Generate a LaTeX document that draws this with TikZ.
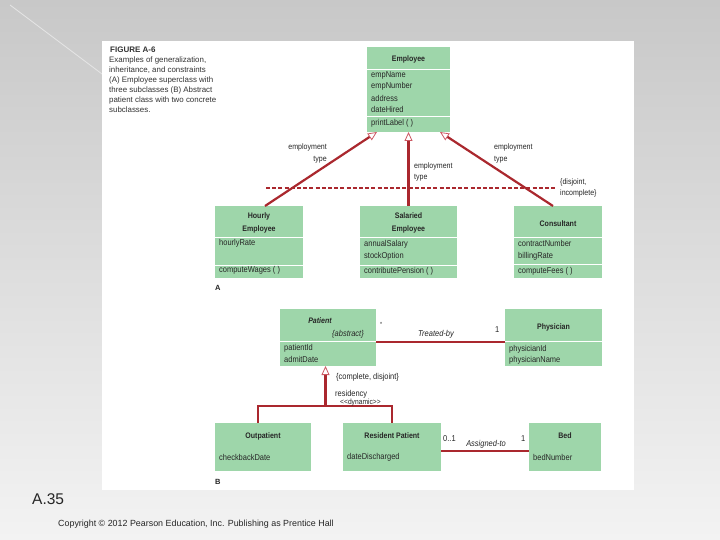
\documentclass[tikz,border=0pt]{standalone}
\usepackage{fontspec}
\setmainfont{Liberation Sans}
\newfontfamily\condf[FakeStretch=0.88]{Liberation Sans}
\usetikzlibrary{arrows.meta}
\definecolor{umlgreen}{RGB}{158,214,170}
\definecolor{umlred}{RGB}{170,40,46}
\definecolor{tippink}{RGB}{205,90,100}
\definecolor{bgtop}{RGB}{200,200,200}
\definecolor{bgbot}{RGB}{243,243,243}
\begin{document}
\begin{tikzpicture}[x=1pt,y=-1pt,
  box/.style={fill=umlgreen, draw=none, inner sep=0, outer sep=0, anchor=north west},
  sepline/.style={draw=white, line width=0.8pt},
  txt/.style={font=\condf\fontsize{8.5}{9}\selectfont, inner sep=0, anchor=west, text=black!85},
  itxt/.style={font=\condf\itshape\fontsize{8.5}{9}\selectfont, inner sep=0, text=black!85},
  ttl/.style={font=\condf\bfseries\fontsize{8}{12.5}\selectfont, inner sep=0, align=center, text=black!85},
  conn/.style={draw=umlred, line width=2.2pt},
  gen/.style={conn, -{Triangle[open, length=9pt, width=8pt, line width=0.8pt, color=tippink]}},
  captxt/.style={font=\fontsize{7.9}{10.1}\selectfont, inner sep=0, anchor=north west, align=left, text=black!80}
]
\useasboundingbox (0,0) rectangle (720,540);
\shade[top color=bgtop, bottom color=bgbot] (0,0) rectangle (720,540);
\draw[white!55!bgtop, line width=0.8pt] (10,5) -- (102,74);
\fill[white] (102,41) rectangle (634,490);

% caption
\node[captxt, font=\bfseries\fontsize{8}{10}\selectfont] (figtitle) at (110,46.5) {FIGURE A-6};
\node[captxt] (figcap) at (109,56.5) {Examples of generalization,\\inheritance, and constraints\\(A) Employee superclass with\\three subclasses (B) Abstract\\patient class with two concrete\\subclasses.};

% ---------- A ----------
\node[box, minimum width=83, minimum height=85] (emp) at (367,47) {};
\draw[sepline] (367,69) -- (450,69);
\draw[sepline] (367,116.5) -- (450,116.5);
\node[ttl] (empT) at (408.5,59.5) {Employee};
\node[txt] (e1) at (371,75) {empName};
\node[txt] (e2) at (371,86.5) {empNumber};
\node[txt] (e3) at (371,98) {address};
\node[txt] (e4) at (371,109.5) {dateHired};
\node[txt] (e5) at (371,123.5) {printLabel ( )};

\node[box, minimum width=88, minimum height=72] (hourly) at (215,206) {};
\draw[sepline] (215,237.5) -- (303,237.5);
\draw[sepline] (215,265) -- (303,265);
\node[ttl] (hT) at (259,223) {Hourly\\Employee};
\node[txt] (h1) at (219,243.5) {hourlyRate};
\node[txt] (h2) at (219,270.5) {computeWages ( )};

\node[box, minimum width=97, minimum height=72] (salaried) at (360,206) {};
\draw[sepline] (360,237.5) -- (457,237.5);
\draw[sepline] (360,265) -- (457,265);
\node[ttl] (sT) at (408.5,223) {Salaried\\Employee};
\node[txt] (s1) at (364,244) {annualSalary};
\node[txt] (s2) at (364,256) {stockOption};
\node[txt] (s3) at (364,271) {contributePension ( )};

\node[box, minimum width=88, minimum height=72] (consultant) at (514,206) {};
\draw[sepline] (514,237.5) -- (602,237.5);
\draw[sepline] (514,264.5) -- (602,264.5);
\node[ttl] (cT) at (558,224) {Consultant};
\node[txt] (c1) at (518,243.5) {contractNumber};
\node[txt] (c2) at (518,256) {billingRate};
\node[txt] (c3) at (518,271) {computeFees ( )};

\coordinate (dashL) at (266,188);
\coordinate (dashR) at (556,188);
\draw[draw=umlred, line width=1.8pt, dash pattern=on 4pt off 2.2pt] (dashL) -- (dashR);

\draw[gen] ([xshift=50pt]hourly.north west) -- ([xshift=10pt]emp.south west);
\draw[gen] (salaried.north) -- (emp.south);
\draw[gen] ([xshift=39pt]consultant.north west) -- ([xshift=-10pt]emp.south east);

\node[txt, anchor=east, align=right, font=\condf\fontsize{8}{11.5}\selectfont] (lab1) at (327,153.5) {employment\\type};
\node[txt, align=left, font=\condf\fontsize{8}{11.5}\selectfont] (lab2) at (414,172) {employment\\type};
\node[txt, align=left, font=\condf\fontsize{8}{11.5}\selectfont] (lab3) at (494,153.5) {employment\\type};
\node[txt, align=left, font=\condf\fontsize{8}{11}\selectfont] (dj) at (560,187.5) {\{disjoint,\\incomplete\}};

\node[txt, font=\bfseries\fontsize{7.5}{9}\selectfont] (labA) at (215,287.5) {A};

% ---------- B ----------
\node[box, minimum width=96, minimum height=57] (patient) at (280,309) {};
\draw[sepline] (280,341.5) -- (376,341.5);
\node[ttl, font=\condf\bfseries\itshape\fontsize{8}{9}\selectfont] (pT) at (320,321) {Patient};
\node[itxt] (pA) at (348,334) {\{abstract\}};
\node[txt] (p1) at (284,348) {patientId};
\node[txt] (p2) at (284,359.5) {admitDate};

\node[box, minimum width=97, minimum height=57] (physician) at (505,309) {};
\draw[sepline] (505,341.5) -- (602,341.5);
\node[ttl] (phT) at (553.5,327) {Physician};
\node[txt] (ph1) at (509,349) {physicianId};
\node[txt] (ph2) at (509,360.5) {physicianName};

\draw[conn] ([yshift=-4.5pt]patient.east) -- ([yshift=-4.5pt]physician.west);
\node[txt, font=\condf\fontsize{6}{7}\selectfont] (star) at (380,324) {*};
\node[txt] (one1) at (495,330) {1};
\node[itxt] (tb) at (436,334.5) {Treated-by};

\node[box, minimum width=96, minimum height=48] (outpatient) at (215,423) {};
\node[ttl] (oT) at (263,436) {Outpatient};
\node[txt] (o1) at (219,457.5) {checkbackDate};

\node[box, minimum width=98, minimum height=48] (resident) at (343,423) {};
\node[ttl] (rT) at (392,436) {Resident Patient};
\node[txt] (r1) at (347,457.5) {dateDischarged};

\node[box, minimum width=72, minimum height=48] (bed) at (529,423) {};
\node[ttl] (bT) at (565,436) {Bed};
\node[txt] (b1) at (533,457.5) {bedNumber};

\coordinate (junc) at (325.5,406);
\draw[gen] (junc) -- ([xshift=-2.5pt]patient.south);
\draw[conn] ([xshift=-5pt]outpatient.north) |- (junc) -| (resident.north);
\node[txt] (cd) at (336,377) {\{complete, disjoint\}};
\node[txt] (res) at (335,394) {residency};
\node[txt, font=\condf\fontsize{7.6}{9}\selectfont] (dyn) at (340,402.5) {<{}<dynamic>{}>};

\draw[conn] ([yshift=-4pt]resident.east) -- ([yshift=-4pt]bed.west);
\node[txt] (z1) at (443,439) {0..1};
\node[txt] (one2) at (521,439) {1};
\node[itxt] (at) at (486,444) {Assigned-to};

\node[txt, font=\bfseries\fontsize{7.5}{9}\selectfont] (labB) at (215,482) {B};

% slide texts
\node[inner sep=0, anchor=west, font=\fontsize{15.5}{17}\selectfont, text=black!85] (pg) at (32,499) {A.35};
\node[inner sep=0, anchor=west, font=\fontsize{8.9}{10}\selectfont, text=black!85] (copy) at (58,524) {Copyright © 2012 Pearson Education, Inc. Publishing as Prentice Hall};
\end{tikzpicture}
\end{document}
